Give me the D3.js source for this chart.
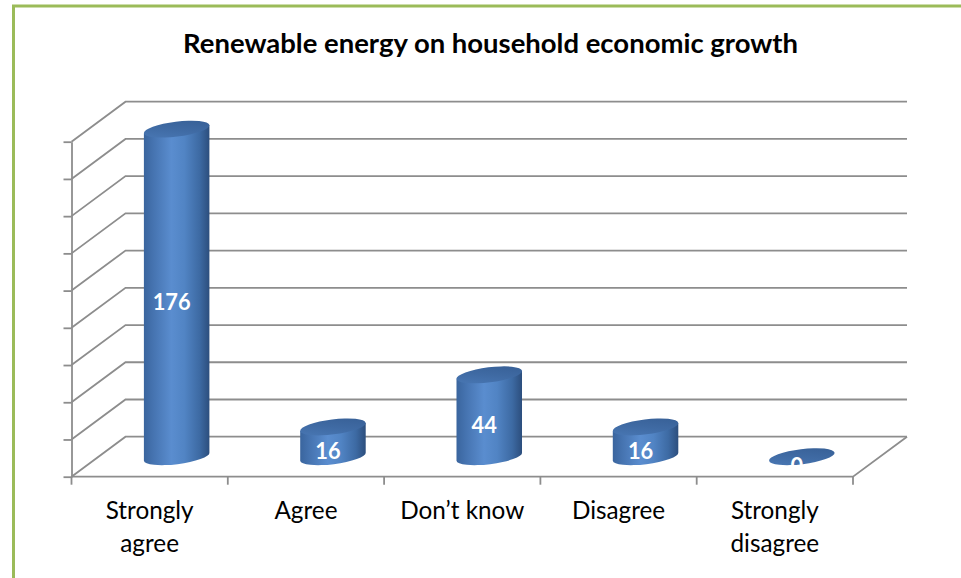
<!DOCTYPE html>
<html>
<head>
<meta charset="utf-8">
<script src="https://cdnjs.cloudflare.com/ajax/libs/d3/7.8.5/d3.min.js"></script>
<style>
  html, body { margin: 0; padding: 0; background: #fff; }
  svg { display: block; }
</style>
</head>
<body>
<svg id="chart" width="961" height="578"></svg>
<script>
// Survey answers and counts
const categories = ["Strongly agree", "Agree", "Don’t know", "Disagree", "Strongly disagree"];
const values = [176, 16, 44, 16, 0];
const yTickValues = [0, 20, 40, 60, 80, 100, 120, 140, 160, 180];
const titleText = "Renewable energy on household economic growth";

const svg = d3.select("#chart");
const FONT = "Lato, 'Open Sans', 'DejaVu Sans', sans-serif";

// Plot frame: front plane plus a depth offset for the 3D back wall
const frontLeft = 71.5, frontRight = 853;
const depthX = 54, depthY = -40;

const x = d3.scaleBand().domain(categories).range([frontLeft, frontRight]).padding(0);
const y = d3.scaleLinear().domain([0, 180]).range([476.7, 141.7]);
const bw = x.bandwidth();

// Green outer frame (extends past the right and bottom edges)
svg.append("rect")
  .attr("x", 13.5).attr("y", 6)
  .attr("width", 1000).attr("height", 1000)
  .attr("fill", "none").attr("stroke", "#9bbb59").attr("stroke-width", 3);

// Helper: size a text so it spans a given width
function fitText(sel, targetWidth, startSize) {
  sel.attr("font-size", startSize);
  const w = sel.node().getComputedTextLength();
  const size = startSize * targetWidth / w;
  sel.attr("font-size", size);
  return size;
}

// Title
const title = svg.append("text")
  .attr("x", 490.5).attr("y", 53)
  .attr("text-anchor", "middle")
  .attr("font-family", FONT).attr("font-weight", "bold")
  .attr("fill", "#000")
  .text(titleText);
fitText(title, 615, 22);

const gridColor = "#8d8d8d";
const grid = svg.append("g").attr("fill", "none").attr("stroke", gridColor).attr("stroke-width", 1.8);

// Side-wall and back-wall gridlines
yTickValues.forEach(t => {
  const yf = y(t);
  grid.append("polyline")
    .attr("points", [
      [frontLeft, yf],
      [frontLeft + depthX, yf + depthY],
      [frontRight + depthX, yf + depthY]
    ].map(p => p.join(",")).join(" "));
});

// Floor front edge and right edge
grid.append("polyline")
  .attr("points", [
    [frontLeft, y(0)],
    [frontRight, y(0)],
    [frontRight + depthX, y(0) + depthY]
  ].map(p => p.join(",")).join(" "));

// Value axis (labels hidden)
const yAxis = d3.axisLeft(y).tickValues(yTickValues).tickSize(8).tickSizeOuter(0).tickFormat("");
const yAxisG = svg.append("g").attr("transform", `translate(${frontLeft},0)`).call(yAxis);
yAxisG.selectAll("path, line").attr("stroke", gridColor).attr("stroke-width", 1.8);

// Category axis ticks at band boundaries
const boundaries = categories.map(c => x(c)).concat([frontRight]);
grid.selectAll("line.xtick").data(boundaries).join("line")
  .attr("class", "xtick")
  .attr("x1", d => d).attr("x2", d => d)
  .attr("y1", y(0)).attr("y2", y(0) + 8);

// Gradients for the cylinders
const defs = svg.append("defs");
const bodyGrad = defs.append("linearGradient").attr("id", "cylBody")
  .attr("x1", "0").attr("x2", "1").attr("y1", "0").attr("y2", "0");
[[0, "#3a659e"], [0.15, "#4674b1"], [0.42, "#5a8dcf"], [0.62, "#5184c4"], [0.85, "#3d6aa3"], [1, "#2c4e7d"]]
  .forEach(([o, c]) => bodyGrad.append("stop").attr("offset", o).attr("stop-color", c));
const topGrad = defs.append("linearGradient").attr("id", "cylTop")
  .attr("x1", "0").attr("x2", "1").attr("y1", "1").attr("y2", "0");
[[0, "#4a79b6"], [0.5, "#3f6aa3"], [1, "#365e94"]]
  .forEach(([o, c]) => topGrad.append("stop").attr("offset", o).attr("stop-color", c));

// Cylinders placed at mid-depth
const rx = 33, ry = 7.5, tilt = -7;
const rad = tilt * Math.PI / 180;
const ex = rx * Math.cos(rad), ey = rx * Math.sin(rad);

const bars = svg.append("g").selectAll("g.bar")
  .data(categories.map((c, i) => ({ c, v: values[i] })))
  .join("g").attr("class", "bar");

bars.each(function(d) {
  const g = d3.select(this);
  const cx = x(d.c) + bw / 2 + depthX / 2;
  const yBase = y(0) + depthY / 2;
  const yTop = y(d.v) + depthY / 2;
  if (d.v > 0) {
    const p = d3.path();
    p.moveTo(cx - ex, yTop - ey);
    p.lineTo(cx - ex, yBase - ey);
    g.append("path")
      .attr("d", `M${cx - ex},${yTop - ey} L${cx - ex},${yBase - ey} ` +
                 `A${rx},${ry} ${tilt} 0 0 ${cx + ex},${yBase + ey} ` +
                 `L${cx + ex},${yTop + ey} Z`)
      .attr("fill", "url(#cylBody)");
  }
  g.append("ellipse")
    .attr("cx", 0).attr("cy", 0).attr("rx", rx).attr("ry", ry)
    .attr("transform", `translate(${cx},${yTop}) rotate(${tilt})`)
    .attr("fill", "url(#cylTop)");

  g.append("text")
    .attr("class", "vlabel")
    .attr("x", cx - 5)
    .attr("y", (yTop + yBase) / 2 + 17)
    .attr("text-anchor", "middle")
    .attr("font-family", FONT).attr("font-weight", "bold")
    .attr("fill", "#fff")
    .text(d.v);
});

// Value label size from the widest label
const firstLabel = svg.select("text.vlabel");
const labelSize = fitText(firstLabel, 38, 20);
svg.selectAll("text.vlabel").attr("font-size", labelSize);

// Category labels, wrapped onto two lines when long
const probe = svg.append("text").attr("font-family", FONT).text("Don’t know");
const catSize = fitText(probe, 124, 20);
probe.remove();

const catG = svg.append("g").attr("font-family", FONT).attr("font-size", catSize).attr("fill", "#000");
categories.forEach(c => {
  const t = catG.append("text")
    .attr("x", x(c) + bw / 2)
    .attr("y", 518.5)
    .attr("text-anchor", "middle");
  const probeW = t.text(c).node().getComputedTextLength();
  t.text(null);
  const words = c.split(" ");
  const lines = probeW > 135 && words.length > 1 ? [words[0], words.slice(1).join(" ")] : [c];
  lines.forEach((ln, i) => {
    t.append("tspan").attr("x", x(c) + bw / 2).attr("dy", i === 0 ? 0 : 33).text(ln);
  });
});
</script>
</body>
</html>
